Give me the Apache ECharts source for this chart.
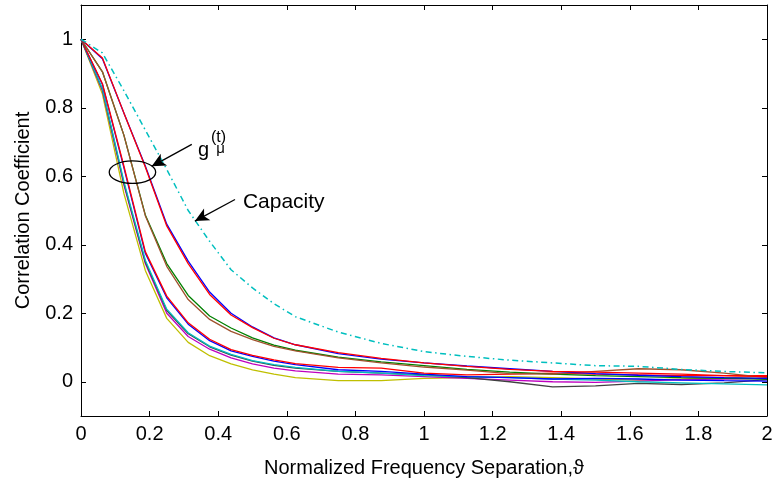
<!DOCTYPE html>
<html>
<head>
<meta charset="utf-8">
<script src="https://cdn.jsdelivr.net/npm/echarts@6/dist/echarts.min.js"></script>
<style>
  html, body { margin: 0; padding: 0; background: #fff; }
  #chart { width: 773px; height: 482px; }
</style>
</head>
<body>
<div id="chart"></div>
<script>
// normalized frequency separation samples
const freqSep = [0, 0.0625, 0.125, 0.1875, 0.25, 0.3125, 0.375, 0.4375, 0.5, 0.5625, 0.625, 0.75, 0.875, 1, 1.125, 1.25, 1.375, 1.5, 1.625, 1.75, 1.875, 2];

const capacity = [1, 0.96, 0.85, 0.735, 0.62, 0.5, 0.41, 0.327, 0.274, 0.228, 0.19, 0.145, 0.112, 0.088, 0.074, 0.063, 0.055, 0.047, 0.045, 0.036, 0.03, 0.026];

const redA = [1, 0.945, 0.785, 0.627, 0.455, 0.345, 0.255, 0.195, 0.158, 0.127, 0.108, 0.085, 0.068, 0.055, 0.045, 0.036, 0.03, 0.028, 0.025, 0.022, 0.018, 0.015];
const blueA = [1, 0.943, 0.785, 0.63, 0.46, 0.352, 0.262, 0.2, 0.16, 0.128, 0.108, 0.082, 0.066, 0.055, 0.046, 0.038, 0.03, 0.024, 0.019, 0.015, 0.012, 0.01];
const brownB = [1, 0.905, 0.72, 0.485, 0.337, 0.24, 0.182, 0.147, 0.123, 0.103, 0.09, 0.07, 0.055, 0.043, 0.034, 0.024, 0.022, 0.03, 0.038, 0.035, 0.025, 0.012];
const greenB = [1, 0.905, 0.72, 0.487, 0.345, 0.252, 0.192, 0.157, 0.128, 0.107, 0.092, 0.072, 0.058, 0.047, 0.036, 0.028, 0.022, 0.018, 0.015, 0.012, 0.01, 0.008];
const redC = [1, 0.87, 0.63, 0.38, 0.25, 0.172, 0.124, 0.094, 0.077, 0.064, 0.053, 0.042, 0.04, 0.025, 0.02, 0.022, 0.025, 0.022, 0.02, 0.018, 0.018, 0.018];
const blueC = [1, 0.868, 0.625, 0.375, 0.245, 0.168, 0.12, 0.09, 0.074, 0.06, 0.05, 0.035, 0.03, 0.022, 0.015, 0.012, 0.008, 0.01, 0.008, 0.005, 0.003, 0.002];
const cyanD = [1, 0.855, 0.585, 0.355, 0.212, 0.143, 0.104, 0.08, 0.062, 0.05, 0.042, 0.03, 0.025, 0.018, 0.015, 0.012, 0.008, 0.005, 0, -0.003, -0.006, -0.009];
const grayD = [1, 0.853, 0.58, 0.35, 0.208, 0.14, 0.102, 0.078, 0.06, 0.048, 0.04, 0.03, 0.025, 0.02, 0.012, 0, -0.015, -0.012, -0.005, -0.008, -0.003, 0.006];
const magentaD = [1, 0.85, 0.575, 0.345, 0.2, 0.132, 0.095, 0.07, 0.052, 0.04, 0.032, 0.022, 0.02, 0.015, 0.01, 0.005, 0, -0.002, 0.002, 0.006, 0.008, 0.01];
const yellowE = [1, 0.84, 0.55, 0.325, 0.185, 0.115, 0.076, 0.052, 0.035, 0.022, 0.012, 0.003, 0.003, 0.01, 0.012, 0.015, 0.012, 0.008, 0.005, 0.008, 0.012, 0.015];

const yTicks = [0, 0.2, 0.4, 0.6, 0.8, 1];

const gCurves = [
  { name: "g1", values: yellowE, color: "#bfbf00" },
  { name: "g2", values: magentaD, color: "#bf00bf" },
  { name: "g3", values: grayD, color: "#404040" },
  { name: "g4", values: cyanD, color: "#00bfbf" },
  { name: "g5", values: blueC, color: "#0000ff" },
  { name: "g6", values: redC, color: "#ff0000" },
  { name: "g7", values: greenB, color: "#008000" },
  { name: "g8", values: brownB, color: "#a0522d" },
  { name: "g9", values: blueA, color: "#0000ff" },
  { name: "g10", values: redA, color: "#ff0000" },
];

const FONT = "Liberation Sans, Arial, sans-serif";

const toPoints = (vals) => freqSep.map((x, i) => [x, vals[i]]);

const chart = echarts.init(document.getElementById("chart"), null, { renderer: "canvas" });

const baseAxis = {
  axisLine: { show: true, onZero: false, lineStyle: { color: "#000", width: 1 } },
  axisTick: { show: true, inside: true, length: 5, lineStyle: { color: "#000" } },
  splitLine: { show: false },
};

const option = {
  animation: false,
  backgroundColor: "#fff",
  grid: { left: 81, right: 6, top: 5, bottom: 66, containLabel: false, outerBoundsMode: "none" },
  xAxis: [
    {
      ...baseAxis,
      type: "value",
      position: "bottom",
      min: 0,
      max: 2,
      interval: 0.2,
      name: "Normalized Frequency Separation,\u03d1",
      nameLocation: "middle",
      nameGap: 42,
      nameTextStyle: { color: "#000", fontSize: 20, fontFamily: FONT },
      axisLabel: { color: "#000", fontSize: 20, fontFamily: FONT, margin: 8 },
    },
    {
      ...baseAxis,
      type: "value",
      position: "top",
      min: 0,
      max: 2,
      interval: 0.2,
      axisLabel: { show: false },
    },
  ],
  yAxis: [
    {
      ...baseAxis,
      type: "value",
      position: "left",
      min: -0.1,
      max: 1.1,
      name: "Correlation Coefficient",
      nameLocation: "middle",
      nameGap: 48,
      nameTextStyle: { color: "#000", fontSize: 20, fontFamily: FONT },
      axisLabel: { color: "#000", fontSize: 20, fontFamily: FONT, margin: 8, customValues: yTicks },
      axisTick: { ...baseAxis.axisTick, customValues: yTicks },
    },
    {
      ...baseAxis,
      type: "value",
      position: "right",
      min: -0.1,
      max: 1.1,
      axisLabel: { show: false, customValues: yTicks },
      axisTick: { ...baseAxis.axisTick, customValues: yTicks },
    },
  ],
  series: [
    ...gCurves.map((c) => ({
      name: c.name,
      type: "line",
      data: toPoints(c.values),
      showSymbol: false,
      symbol: "none",
      lineStyle: { color: c.color, width: 1.3 },
      emphasis: { disabled: true },
      silent: true,
      z: 3,
    })),
    {
      name: "Capacity",
      type: "line",
      data: toPoints(capacity),
      showSymbol: false,
      symbol: "none",
      lineStyle: { color: "#00bfbf", width: 1.5, type: [6, 3.5, 1.5, 3.5] },
      emphasis: { disabled: true },
      silent: true,
      z: 4,
      markLine: {
        silent: true,
        animation: false,
        symbol: ["none", "arrow"],
        symbolSize: [10, 14],
        label: { show: false },
        lineStyle: { color: "#000", width: 1.3, type: "solid" },
        emphasis: { disabled: true },
        data: [
          [{ coord: [0.323, 0.693] }, { coord: [0.206, 0.629] }],
          [{ coord: [0.449, 0.532] }, { coord: [0.332, 0.469] }],
        ],
      },
    },
  ],
};

chart.setOption(option);

// annotations placed through the axes
const px = (x, y) => chart.convertToPixel({ gridIndex: 0 }, [x, y]);
const c = px(0.15, 0.612);
const edge = px(0.15 + 0.0677, 0.612 + 0.0327);
const gPos = px(0.341, 0.675);
const tPos = px(0.379, 0.713);
const muPos = px(0.394, 0.68);
const capPos = px(0.472, 0.523);

chart.setOption({
  graphic: [
    {
      type: "ellipse",
      shape: { cx: c[0], cy: c[1], rx: edge[0] - c[0], ry: c[1] - edge[1] },
      style: { fill: "none", stroke: "#000", lineWidth: 1.3 },
      silent: true,
      z: 10,
    },
    {
      type: "text",
      x: gPos[0],
      y: gPos[1],
      style: { text: "g", font: "20px " + FONT, fill: "#000", verticalAlign: "middle", align: "left" },
      silent: true,
      z: 10,
    },
    {
      type: "text",
      x: tPos[0],
      y: tPos[1],
      style: { text: "(t)", font: "16px " + FONT, fill: "#000", verticalAlign: "middle", align: "left" },
      silent: true,
      z: 10,
    },
    {
      type: "text",
      x: muPos[0],
      y: muPos[1],
      style: { text: "\u03bc", font: "15px " + FONT, fill: "#000", verticalAlign: "middle", align: "left" },
      silent: true,
      z: 10,
    },
    {
      type: "text",
      x: capPos[0],
      y: capPos[1],
      style: { text: "Capacity", font: "21px " + FONT, fill: "#000", verticalAlign: "middle", align: "left" },
      silent: true,
      z: 10,
    },
  ],
});
</script>
</body>
</html>
